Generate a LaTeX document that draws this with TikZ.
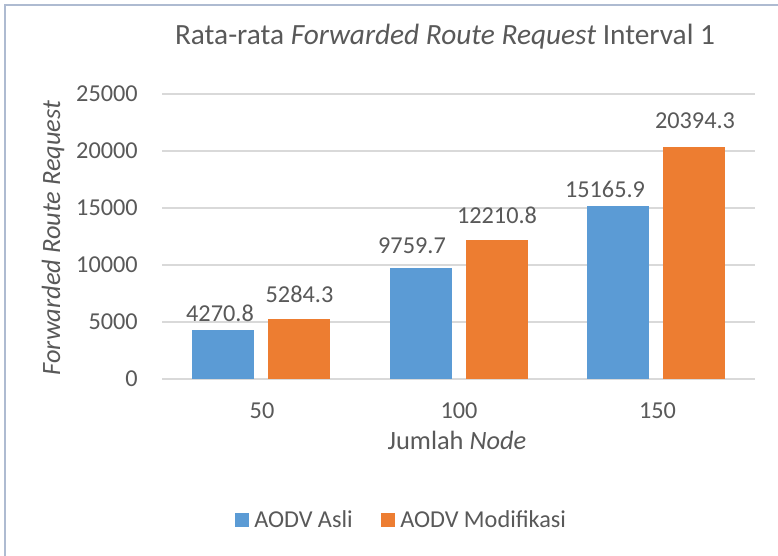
\documentclass[tikz,border=0pt]{standalone}
\usepackage{fontspec}
\setmainfont{Carlito}
\definecolor{txt}{HTML}{595959}
\definecolor{blu}{HTML}{5B9BD5}
\definecolor{org}{HTML}{ED7D31}
\definecolor{grd}{HTML}{D9D9D9}
\definecolor{frm}{HTML}{AEBBD1}
\begin{document}
\begin{tikzpicture}[x=0.75pt,y=-0.75pt,
  lbl/.style={text=txt,inner sep=0pt,font=\fontsize{18.2}{21}\selectfont},
  ttl/.style={text=txt,inner sep=0pt,font=\fontsize{22}{26}\selectfont},
  axt/.style={text=txt,inner sep=0pt,font=\fontsize{19.8}{23}\selectfont},
  gridline/.style={grd,line width=0.9pt},
  barA/.style={fill=blu},
  barB/.style={fill=org}]
\useasboundingbox (0,0) rectangle (778,556);
\fill[white] (0,0) rectangle (778,556);
\draw[frm,line width=1.1pt] (5,560) -- (5,5) -- (782,5);
% title
\node[ttl,anchor=base] (title) at (445,45) {Rata-rata \textit{Forwarded Route Request} Interval 1};
% grid and ticks
\foreach \v [count=\i from 0] in {0,5000,10000,15000,20000,25000}{
  \draw[gridline] (162,{379-57*\i}) -- (755,{379-57*\i});
  \node[lbl,anchor=base east] (tick\i) at (138,{379-57*\i+7.5}) {\v};
}
% bars (values in thousands)
\foreach \c/\va/\vb in {261/4.2708/5.2843, 458.5/9.7597/12.2108, 656/15.1659/20.3943}{
  \fill[barA] ({\c-69},379) rectangle ({\c-7},{379-\va*11.4});
  \fill[barB] ({\c+7},379) rectangle ({\c+69},{379-\vb*11.4});
}
% data labels
\node[lbl,anchor=base] (d1) at (220,321) {4270.8};
\node[lbl,anchor=base] (d2) at (299.5,302) {5284.3};
\node[lbl,anchor=base] (d3) at (412,253.3) {9759.7};
\node[lbl,anchor=base] (d4) at (497,223.3) {12210.8};
\node[lbl,anchor=base] (d5) at (605,197) {15165.9};
\node[lbl,anchor=base] (d6) at (695,129) {20394.3};
% category labels
\node[lbl,anchor=base] (c1) at (262,418) {50};
\node[lbl,anchor=base] (c2) at (459,418) {100};
\node[lbl,anchor=base] (c3) at (657.5,418) {150};
% axis titles
\node[axt,anchor=base] (xt) at (457,449) {Jumlah \textit{Node}};
\node[axt,anchor=base,rotate=90] (yt) at (60,238) {\textit{Forwarded Route Request}};
% legend
\fill[blu] (235,513) rectangle (249.3,527);
\node[lbl,anchor=base west] (l1) at (254,527.3) {AODV Asli};
\fill[org] (380.7,513) rectangle (395,527);
\node[lbl,anchor=base west] (l2) at (400,527.3) {AODV Modifikasi};
\end{tikzpicture}
\end{document}
